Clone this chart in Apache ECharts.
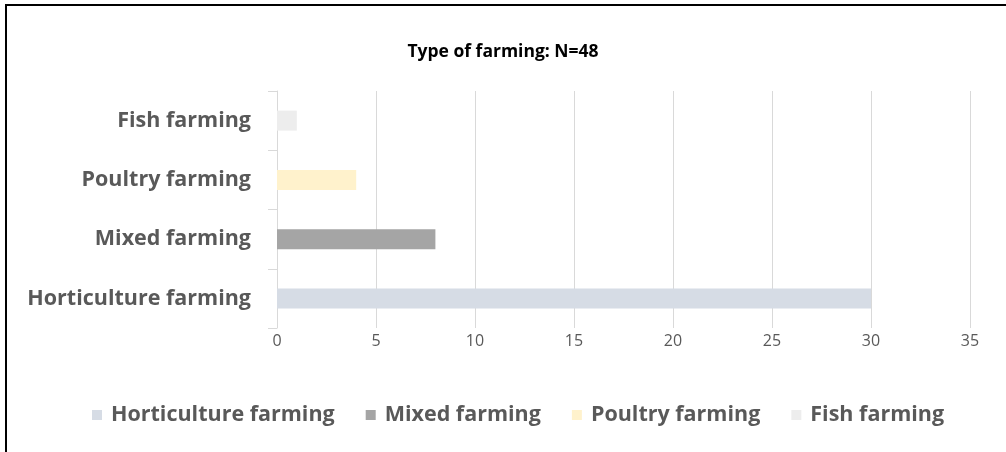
<!DOCTYPE html>
<html>
<head>
<meta charset="utf-8">
<script src="https://cdn.jsdelivr.net/npm/echarts@6/dist/echarts.min.js"></script>
<style>
  html, body { margin: 0; padding: 0; background: #fff; }
  #wrap { position: relative; width: 1006px; height: 452px; overflow: hidden; }
  #chart { position: absolute; left: 0; top: 0; width: 1006px; height: 452px; }
  #frame { position: absolute; left: 5px; top: 4px; width: 1200px; height: 600px;
           border-left: 2px solid #000; border-top: 2px solid #000; pointer-events: none; }
</style>
</head>
<body>
<div id="wrap">
  <div id="chart"></div>
  <div id="frame"></div>
</div>
<script>
// Farm types, listed bottom to top on the category axis
const categories = ['Horticulture farming', 'Mixed farming', 'Poultry farming', 'Fish farming'];
// Respondent counts per farm type (each series holds one category)
const horticultureValues = [30, null, null, null];
const mixedValues = [null, 8, null, null];
const poultryValues = [null, null, 4, null];
const fishValues = [null, null, null, 1];
const xTicks = [0, 5, 10, 15, 20, 25, 30, 35];

const seriesNames = ['Horticulture farming', 'Mixed farming', 'Poultry farming', 'Fish farming'];
const seriesData = [horticultureValues, mixedValues, poultryValues, fishValues];
const seriesColors = ['#D6DCE5', '#A5A5A5', '#FFF2CC', '#EDEDED'];

const FONT = '"Open Sans", "Liberation Sans", sans-serif';

const chart = echarts.init(document.getElementById('chart'), null, { renderer: 'canvas' });
chart.setOption({
  animation: false,
  backgroundColor: '#ffffff',
  title: {
    text: 'Type of farming: N=48',
    left: 'center',
    top: 38,
    textStyle: { fontFamily: FONT, fontWeight: 'bold', fontSize: 17.5, color: '#000000' }
  },
  legend: {
    bottom: 21,
    left: 87,
    icon: 'rect',
    itemWidth: 10,
    itemHeight: 10,
    itemGap: 31,
    data: seriesNames,
    textStyle: { fontFamily: FONT, fontWeight: 'bold', fontSize: 21.5, color: '#595959', padding: [0, 0, 0, 4] }
  },
  grid: { left: 277, right: 36, top: 91, bottom: 124, containLabel: false },
  xAxis: {
    type: 'value',
    min: xTicks[0],
    max: xTicks[xTicks.length - 1],
    interval: 5,
    axisLine: { show: false },
    axisTick: { show: false },
    axisLabel: { fontFamily: FONT, fontSize: 16, color: '#595959', margin: 5 },
    splitLine: { show: true, lineStyle: { color: '#D9D9D9', width: 1 } }
  },
  yAxis: {
    type: 'category',
    data: categories,
    axisLine: { show: true, lineStyle: { color: '#D9D9D9', width: 1 } },
    axisTick: { show: true, length: 9, lineStyle: { color: '#D9D9D9' } },
    axisLabel: { fontFamily: FONT, fontWeight: 'bold', fontSize: 21.5, color: '#595959', margin: 26 },
    splitLine: { show: false }
  },
  series: seriesNames.map((name, i) => ({
    name: name,
    type: 'bar',
    stack: 'farm',
    barWidth: 20,
    data: seriesData[i],
    itemStyle: { color: seriesColors[i] }
  }))
});
</script>
</body>
</html>
